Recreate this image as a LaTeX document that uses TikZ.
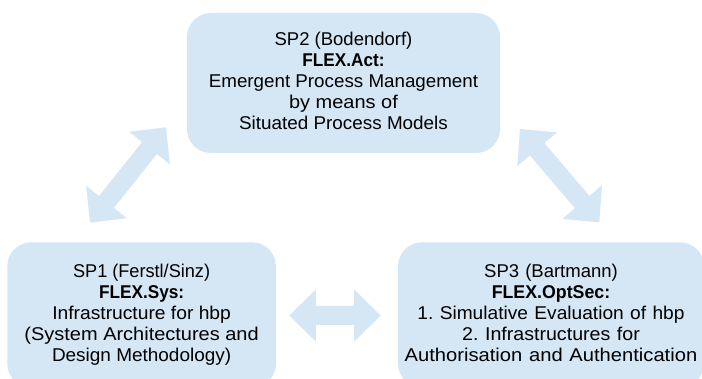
\documentclass[tikz,border=0pt]{standalone}
\usepackage{fontspec}
\setmainfont{Liberation Sans}
\usetikzlibrary{calc}
\definecolor{boxblue}{RGB}{213,230,245}
\newcommand\hsx[2]{\scalebox{#1}[1]{#2}}
\tikzset{
  box/.style={fill=boxblue, rounded corners=24pt, align=center, inner sep=0pt,
    font=\fontsize{18.5}{21}\selectfont\frenchspacing},
}
\newcommand\dblarrow[2]{%
  \fill[boxblue] (#1)
    -- ($(#1)!26.5pt!(#2)!26pt!90:(#2)$)
    -- ($(#1)!26.5pt!(#2)!9.5pt!90:(#2)$)
    -- ($(#2)!26.5pt!(#1)!9.5pt!-90:(#1)$)
    -- ($(#2)!26.5pt!(#1)!26pt!-90:(#1)$)
    -- (#2)
    -- ($(#2)!26.5pt!(#1)!26pt!90:(#1)$)
    -- ($(#2)!26.5pt!(#1)!9.5pt!90:(#1)$)
    -- ($(#1)!26.5pt!(#2)!9.5pt!-90:(#2)$)
    -- ($(#1)!26.5pt!(#2)!26pt!-90:(#2)$)
    -- cycle;}
\begin{document}
\begin{tikzpicture}[x=1pt,y=-1pt]
  \clip (0,0) rectangle (702,379);
  \fill[white] (0,0) rectangle (702,379);
  \node[box, minimum width=313pt, minimum height=140pt] (sp2) at (343.5,83)
    {SP2 (Bodendorf)\\\hsx{0.93}{\textbf{FLEX.Act:}}\\\hsx{1.015}{Emergent Process Management}\\\hsx{1.08}{by means of}\\\hsx{1.02}{Situated Process Models}\vphantom{(}};
  \node[box, minimum width=268.7pt, minimum height=145.4pt] (sp1) at (141.6,315)
    {\hsx{0.98}{SP1 (Ferstl/Sinz)}\\\hsx{0.93}{\textbf{FLEX.Sys:}}\\\hsx{1.04}{Infrastructure for hbp}\\\hsx{1.08}{(System Architectures and}\\\hsx{1.025}{Design Methodology)}};
  \node[box, minimum width=306pt, minimum height=145.4pt, text width=304pt] (sp3) at (551,315)
    {SP3 (Bartmann)\\\hsx{0.96}{\textbf{FLEX.OptSec:}}\\\hsx{1.035}{1. Simulative Evaluation of hbp}\\\hsx{1.06}{2. Infrastructures for}\\\hsx{1.09}{Authorisation and Authentication}\vphantom{(}};
  \coordinate (a1) at (90,222.7);
  \coordinate (a2) at (166,127.3);
  \coordinate (b1) at (520,129);
  \coordinate (b2) at (599.3,222.3);
  \coordinate (c1) at (289.3,315.5);
  \coordinate (c2) at (380.7,315.5);
  \dblarrow{a1}{a2}
  \dblarrow{b1}{b2}
  \dblarrow{c1}{c2}
\end{tikzpicture}
\end{document}
